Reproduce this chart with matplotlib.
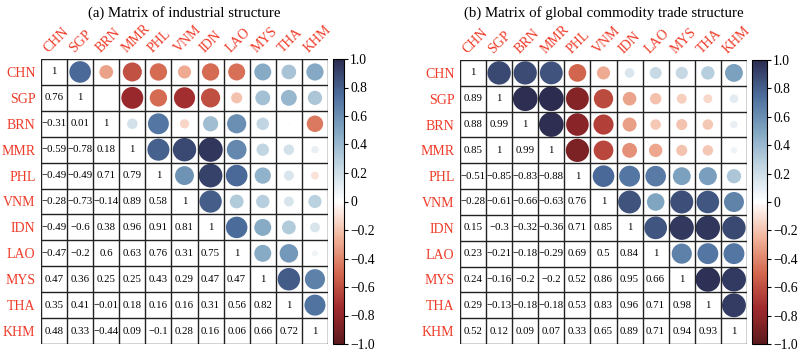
import numpy as np
import matplotlib
matplotlib.use("Agg")
import matplotlib.pyplot as plt
from matplotlib.colors import LinearSegmentedColormap
from matplotlib.ticker import FixedLocator, FuncFormatter

plt.rcParams['font.family'] = ['Liberation Serif', 'DejaVu Serif']

countries = ['CHN', 'SGP', 'BRN', 'MMR', 'PHL', 'VNM', 'IDN', 'LAO', 'MYS', 'THA', 'KHM']

# lower triangles, row by row (row i has i values)
industrial_lower = [
    [],
    [0.76],
    [-0.31, 0.01],
    [-0.59, -0.78, 0.18],
    [-0.49, -0.49, 0.71, 0.79],
    [-0.28, -0.73, -0.14, 0.89, 0.58],
    [-0.49, -0.6, 0.38, 0.96, 0.91, 0.81],
    [-0.47, -0.2, 0.6, 0.63, 0.76, 0.31, 0.75],
    [0.47, 0.36, 0.25, 0.25, 0.43, 0.29, 0.47, 0.47],
    [0.35, 0.41, -0.01, 0.18, 0.16, 0.16, 0.31, 0.56, 0.82],
    [0.48, 0.33, -0.44, 0.09, -0.1, 0.28, 0.16, 0.06, 0.66, 0.72],
]

trade_lower = [
    [],
    [0.89],
    [0.88, 0.99],
    [0.85, 1, 0.99],
    [-0.51, -0.85, -0.83, -0.88],
    [-0.28, -0.61, -0.66, -0.63, 0.76],
    [0.15, -0.3, -0.32, -0.36, 0.71, 0.85],
    [0.23, -0.21, -0.18, -0.29, 0.69, 0.5, 0.84],
    [0.24, -0.16, -0.2, -0.2, 0.52, 0.86, 0.95, 0.66],
    [0.29, -0.13, -0.18, -0.18, 0.53, 0.83, 0.96, 0.71, 0.98],
    [0.52, 0.12, 0.09, 0.07, 0.33, 0.65, 0.89, 0.71, 0.94, 0.93],
]

titles = ['(a) Matrix of industrial structure',
          '(b) Matrix of global commodity trade structure']

cmap = LinearSegmentedColormap.from_list('corr', [
    '#5c1a1e', '#a02a2d', '#d4684f', '#f1b49b', '#ffffff',
    '#c2d6e3', '#80a6c2', '#4c6d9c', '#2c2c50'])

red = '#ee3b28'
W, H = 800, 352


def full_matrix(lower):
    n = len(lower)
    m = np.eye(n)
    for i, row in enumerate(lower):
        for j, v in enumerate(row):
            m[i, j] = v
            m[j, i] = v
    return m


def fmt(v):
    if v == 1:
        return '1'
    s = f'{v:.2f}'.rstrip('0').rstrip('.')
    return s.replace('-', '\u2212')


def draw_panel(fig, lower, box, cbox, title):
    m = full_matrix(lower)
    n = len(countries)
    x0, y0, x1, y1 = box
    ax = fig.add_axes([x0 / W, 1 - y1 / H, (x1 - x0) / W, (y1 - y0) / H])
    ax.set_xlim(-0.5, n - 0.5)
    ax.set_ylim(n - 0.5, -0.5)
    cell = (x1 - x0) / n

    # upper triangle circles, area ~ |r|
    ii, jj = np.triu_indices(n, 1)
    vals = m[ii, jj]
    d_pt = 0.95 * cell * np.sqrt(np.abs(vals)) * 72 / 100
    sc = ax.scatter(jj, ii, s=d_pt ** 2, c=vals, cmap=cmap, vmin=-1, vmax=1,
                    linewidths=0, zorder=2)

    # lower triangle + diagonal numbers
    for i in range(n):
        for j in range(i + 1):
            ax.text(j, i, fmt(m[i, j]), ha='center', va='center',
                    fontsize=7.8, color='black', zorder=3)

    for k in range(n + 1):
        ax.axhline(k - 0.5, color='#222222', lw=1.0, zorder=4)
        ax.axvline(k - 0.5, color='#222222', lw=1.0, zorder=4)

    ax.set_xticks([])
    ax.set_yticks(range(n))
    ax.set_yticklabels(countries, fontsize=10, color=red)
    ax.tick_params(axis='y', length=0, pad=4)
    for sp in ax.spines.values():
        sp.set_visible(False)

    for j, c in enumerate(countries):
        ax.text(j - 0.15, -0.65, c, rotation=45, rotation_mode='anchor',
                ha='left', va='bottom', fontsize=10, color=red)

    fig.text((x0 + x1) / 2 / W, 1 - 13 / H, title, ha='center', va='center',
             fontsize=10.7)

    cx0, cx1 = cbox
    cax = fig.add_axes([cx0 / W, 1 - y1 / H, (cx1 - cx0) / W, (y1 - y0) / H])
    cb = fig.colorbar(sc, cax=cax)
    ticks = np.linspace(-1, 1, 11)
    cb.ax.yaxis.set_major_locator(FixedLocator(ticks))
    cb.ax.yaxis.set_major_formatter(FuncFormatter(
        lambda v, p: '0' if abs(v) < 1e-9 else f'{v:.1f}'.replace('-', '\u2212')))
    cb.ax.tick_params(labelsize=9.8, length=3, width=0.8, pad=1.5)
    cb.outline.set_linewidth(0.8)


fig = plt.figure(figsize=(8, 3.52), dpi=100)
draw_panel(fig, industrial_lower, (41, 59, 328, 344), (333, 344), titles[0])
draw_panel(fig, trade_lower, (460, 60, 747, 344), (752, 767), titles[1])
fig.savefig('out.png', dpi=100)
